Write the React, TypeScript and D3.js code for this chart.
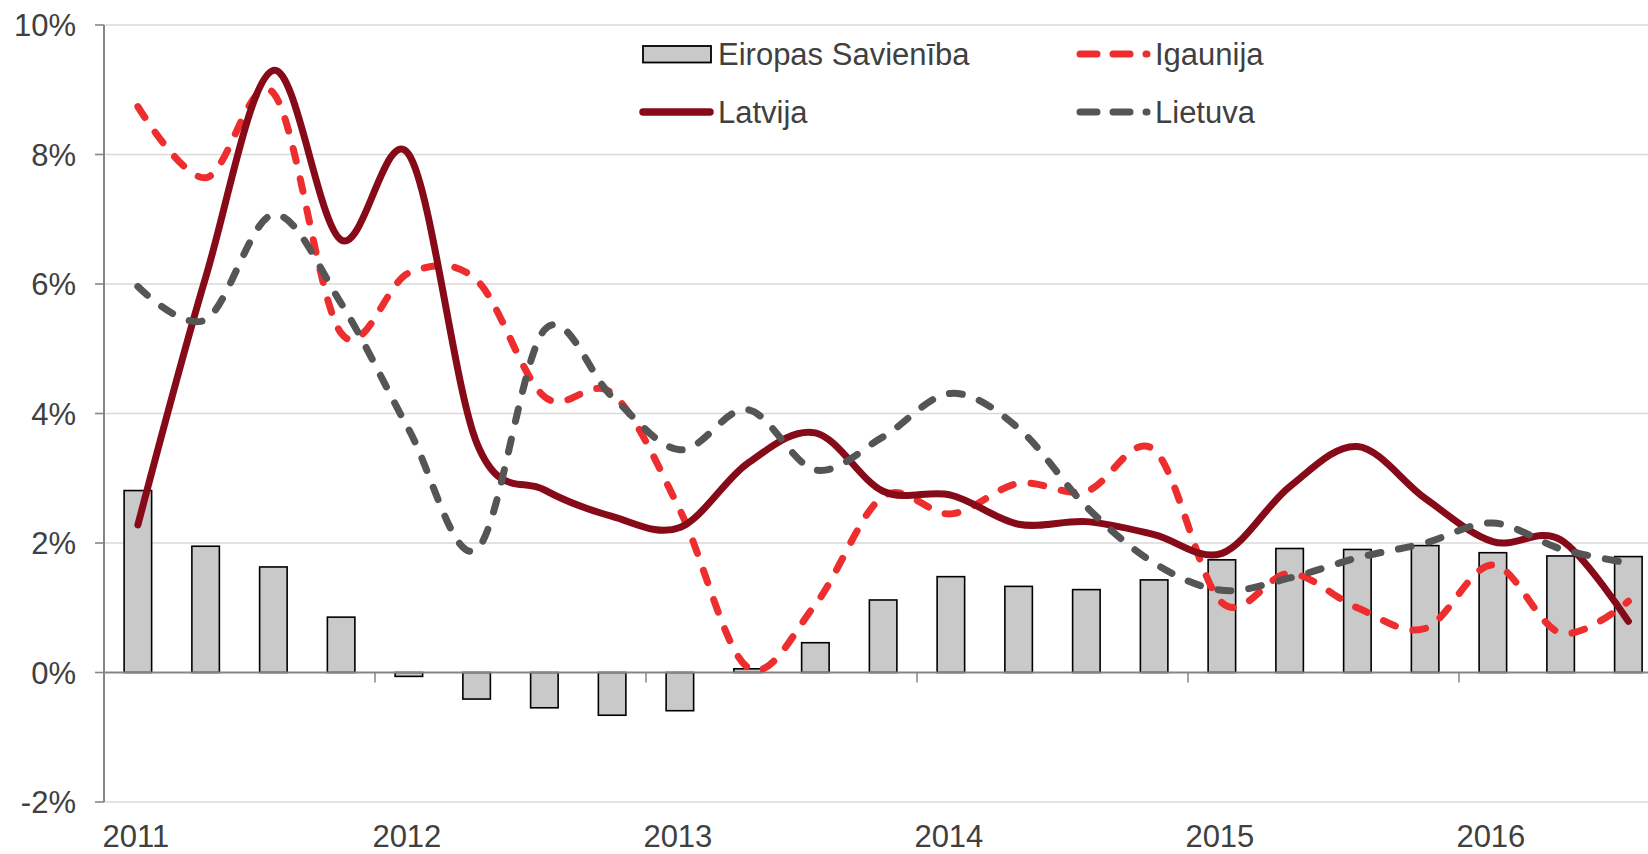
import React from 'react';
import { scaleBand, scaleLinear, line, curveCardinal } from 'd3';

const quarters = [
  '2011Q1', '2011Q2', '2011Q3', '2011Q4',
  '2012Q1', '2012Q2', '2012Q3', '2012Q4',
  '2013Q1', '2013Q2', '2013Q3', '2013Q4',
  '2014Q1', '2014Q2', '2014Q3', '2014Q4',
  '2015Q1', '2015Q2', '2015Q3', '2015Q4',
  '2016Q1', '2016Q2', '2016Q3',
];
const years = ['2011', '2012', '2013', '2014', '2015', '2016'];
const yTicks = [-2, 0, 2, 4, 6, 8, 10];

const eiropasSavieniba = [
  2.81, 1.95, 1.63, 0.855, -0.06, -0.41, -0.545, -0.66, -0.59, 0.057, 0.46,
  1.12, 1.48, 1.33, 1.28, 1.43, 1.74, 1.915, 1.9, 1.96, 1.85, 1.8, 1.79,
];
const latvija = [
  2.28, 6.1, 9.3, 6.68, 8.0, 3.55, 2.82, 2.41, 2.24, 3.23, 3.7, 2.8, 2.74,
  2.29, 2.33, 2.13, 1.84, 2.87, 3.49, 2.69, 2.02, 2.05, 0.79,
];
const igaunija = [
  8.74, 7.64, 8.95, 5.24, 6.17, 6.06, 4.26, 4.31, 2.51, 0.08, 1.05, 2.72,
  2.45, 2.92, 2.8, 3.44, 1.08, 1.53, 1.0, 0.68, 1.66, 0.61, 1.1,
];
const lietuva = [
  5.96, 5.45, 7.07, 5.7, 3.75, 1.9, 5.29, 4.26, 3.44, 4.06, 3.13, 3.64, 4.31,
  3.77, 2.56, 1.69, 1.27, 1.46, 1.77, 2.0, 2.31, 1.91, 1.69,
];

const width = 1648;
const height = 854;
const margin = { top: 25, left: 104, bottom: 52 };
const step = 67.75; // one quarter; the chart runs on past the right edge
const font = '"Liberation Sans", Arial, sans-serif';
const fontSize = 31;
const textColor = '#404040';
const axisColor = '#868686';
const gridColor = '#d9d9d9';

const colors = {
  es: '#c9c9c9',
  latvija: '#870a18',
  igaunija: '#ee2e2e',
  lietuva: '#555555',
};

const dash = '13 18';
const legendDash = '17 16';

export default function App() {
  const xScale = scaleBand()
    .domain(quarters)
    .range([margin.left, margin.left + step * quarters.length])
    .paddingInner(0.594)
    .paddingOuter(0.297);

  const yScale = scaleLinear()
    .domain([-2, 10])
    .range([height - margin.bottom, margin.top]);

  const cx = (i) => xScale(quarters[i]) + xScale.bandwidth() / 2;

  const lineGen = line()
    .x((d, i) => cx(i))
    .y((d) => yScale(d))
    .curve(curveCardinal.tension(0));

  const y0 = yScale(0);
  const right = width;

  const series = [
    { name: 'Igaunija', values: igaunija, color: colors.igaunija, dashed: true },
    { name: 'Latvija', values: latvija, color: colors.latvija, dashed: false },
    { name: 'Lietuva', values: lietuva, color: colors.lietuva, dashed: true },
  ];

  return (
    <div style={{ position: 'absolute', left: 0, top: 0 }}>
      <svg width={width} height={height} style={{ display: 'block' }} fontFamily={font}>
        <rect width={width} height={height} fill="#fff" />

        {/* gridlines */}
        {yTicks.filter((t) => t !== 0).map((t) => (
          <line
            key={t}
            x1={margin.left}
            x2={right}
            y1={yScale(t)}
            y2={yScale(t)}
            stroke={gridColor}
            strokeWidth={1.6}
          />
        ))}

        {/* bars */}
        {eiropasSavieniba.map((v, i) => (
          <rect
            key={i}
            x={xScale(quarters[i])}
            y={Math.min(yScale(v), y0)}
            width={xScale.bandwidth()}
            height={Math.abs(yScale(v) - y0)}
            fill={colors.es}
            stroke="#000"
            strokeWidth={1.6}
          />
        ))}

        {/* axes */}
        <line x1={margin.left} x2={right} y1={y0} y2={y0} stroke={axisColor} strokeWidth={2} />
        {years.slice(1).map((yr) => (
          <line
            key={yr}
            x1={xScale(`${yr}Q1`) - xScale.step() * 0.297}
            x2={xScale(`${yr}Q1`) - xScale.step() * 0.297}
            y1={y0}
            y2={y0 + 10}
            stroke={axisColor}
            strokeWidth={1.5}
          />
        ))}
        <line
          x1={margin.left}
          x2={margin.left}
          y1={yScale(10)}
          y2={yScale(-2)}
          stroke={axisColor}
          strokeWidth={2}
        />
        {yTicks.map((t) => (
          <g key={t}>
            <line
              x1={margin.left - 9}
              x2={margin.left}
              y1={yScale(t)}
              y2={yScale(t)}
              stroke={axisColor}
              strokeWidth={1.6}
            />
            <text
              x={76}
              y={yScale(t) + 11}
              textAnchor="end"
              fontSize={fontSize}
              fill={textColor}>
              {`${t}%`}
            </text>
          </g>
        ))}
        {years.map((yr) => (
          <text
            key={yr}
            x={xScale(`${yr}Q1`) + xScale.bandwidth() / 2 - 2}
            y={847}
            textAnchor="middle"
            fontSize={fontSize}
            fill={textColor}>
            {yr}
          </text>
        ))}

        {/* lines */}
        {series.map((s) => (
          <path
            key={s.name}
            d={lineGen(s.values)}
            fill="none"
            stroke={s.color}
            strokeWidth={7}
            strokeLinecap="round"
            strokeLinejoin="round"
            strokeDasharray={s.dashed ? dash : undefined}
          />
        ))}

        {/* legend */}
        <g fontSize={fontSize} fill={textColor}>
          <rect x={643} y={46} width={68} height={16.5} fill={colors.es} stroke="#000" strokeWidth={1.8} />
          <text x={718} y={65}>Eiropas Savienība</text>

          <line x1={1080} x2={1147} y1={54} y2={54} stroke={colors.igaunija} strokeWidth={7}
            strokeLinecap="round" strokeDasharray={legendDash} />
          <text x={1155} y={65}>Igaunija</text>

          <line x1={643} x2={710} y1={112} y2={112} stroke={colors.latvija} strokeWidth={7.5}
            strokeLinecap="round" />
          <text x={718} y={123}>Latvija</text>

          <line x1={1080} x2={1147} y1={112} y2={112} stroke={colors.lietuva} strokeWidth={7}
            strokeLinecap="round" strokeDasharray={legendDash} />
          <text x={1155} y={123}>Lietuva</text>
        </g>
      </svg>
    </div>
  );
}
